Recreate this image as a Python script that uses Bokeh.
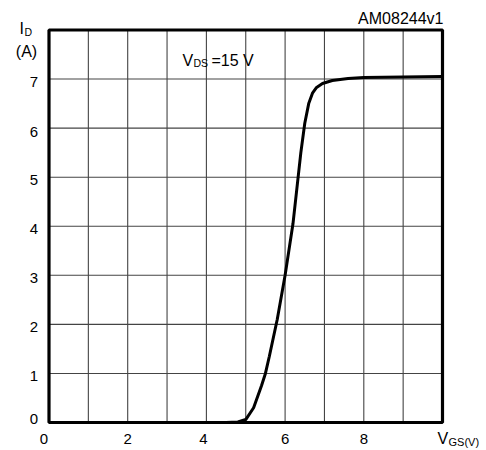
from bokeh.plotting import figure
from bokeh.models import Range1d, Label, ColumnDataSource
from bokeh.core.properties import value
from bokeh.embed import file_html
from bokeh.resources import INLINE

# ---- data ----
vgs = [0, 4.5, 4.8, 5.0, 5.2, 5.4, 5.5, 5.6, 5.8, 6.0, 6.2, 6.4, 6.5, 6.6, 6.7, 6.8, 6.95, 7.2, 7.6, 8.0, 9.0, 10.0]
i_d = [0, 0, 0.01, 0.06, 0.3, 0.75, 1.0, 1.35, 2.1, 3.0, 4.05, 5.5, 6.1, 6.5, 6.72, 6.83, 6.91, 6.97, 7.01, 7.03, 7.04, 7.05]

x_ticks = [0, 2, 4, 6, 8]
x_tick_labels = ["0", "2", "4", "6", "8"]
y_ticks = [0, 1, 2, 3, 4, 5, 6, 7]
y_tick_labels = ["0", "1", "2", "3", "4", "5", "6", "7"]
x_grid = list(range(0, 11))
y_grid = list(range(0, 9))

# ---- layout (pixels) ----
W, H = 486, 450
FL, FR, FT, FB = 48.5, 442.0, 29.5, 422.0
FONT = "Liberation Sans"

xmin, xmax = x_grid[0], x_grid[-1]
ymin, ymax = y_grid[0], y_grid[-1]
sx = (FR - FL) / (xmax - xmin)
sy = (FB - FT) / (ymax - ymin)

def dx(px):
    return xmin + (px - FL) / sx

def dy(py):
    return ymin + (FB - py) / sy

p = figure(width=W, height=H, output_backend="svg", toolbar_location=None,
           x_axis_type=None, y_axis_type=None,
           x_range=Range1d(dx(0), dx(W)), y_range=Range1d(dy(H), dy(0)),
           min_border=0)
p.outline_line_color = None
p.background_fill_color = "white"
p.border_fill_color = "white"

# grid lines
p.segment(x0=x_grid, y0=[ymin] * len(x_grid), x1=x_grid, y1=[ymax] * len(x_grid),
          line_color="#444444", line_width=1.1)
p.segment(x0=[xmin] * len(y_grid), y0=y_grid, x1=[xmax] * len(y_grid), y1=y_grid,
          line_color="#444444", line_width=1.1)

# curve
p.line(vgs, i_d, line_color="black", line_width=3)

# plot box
p.quad(left=[xmin], right=[xmax], bottom=[ymin], top=[ymax],
       fill_color=None, line_color="black", line_width=3.2)

# tick labels
xsrc = ColumnDataSource(dict(x=x_ticks, y=[ymin] * len(x_ticks), t=x_tick_labels,
                             xo=[-5, 0, -3, 0, 0]))
p.text(x="x", y="y", text="t", source=xsrc, x_offset="xo", y_offset=16,
       text_font=value(FONT), text_font_size="15px", text_align="center",
       text_baseline="middle", text_color="black")
ysrc = ColumnDataSource(dict(x=[xmin] * len(y_ticks), y=y_ticks, t=y_tick_labels,
                             yo=[-4, 3, 3, 3, 3, 3, 4, 3]))
p.text(x="x", y="y", text="t", source=ysrc, x_offset=-11, y_offset="yo",
       text_font=value(FONT), text_font_size="15px", text_align="right",
       text_baseline="middle", text_color="black")

def lab(px, py, t, size, align="left"):
    p.add_layout(Label(x=dx(px), y=dy(py), text=t, text_font=FONT, text_font_size=size,
                       text_color="black", text_align=align, text_baseline="middle"))

# y-axis title I_D (A)
lab(19, 28, "I", "16px")
lab(24, 31, "D", "10.5px")
lab(26, 51, "(A)", "16px", "center")
# x-axis title V_GS(V)
lab(437, 438, "V", "16px")
lab(448, 441, "GS(V)", "11px")
# top-right code
lab(443, 17.5, "AM08244v1", "16px", "right")
# condition
lab(182, 60, "V", "16px")
lab(193, 62, "DS", "10.5px")
lab(211, 60, "=15 V", "16px")

open("out.html", "w").write(file_html(p, INLINE))
